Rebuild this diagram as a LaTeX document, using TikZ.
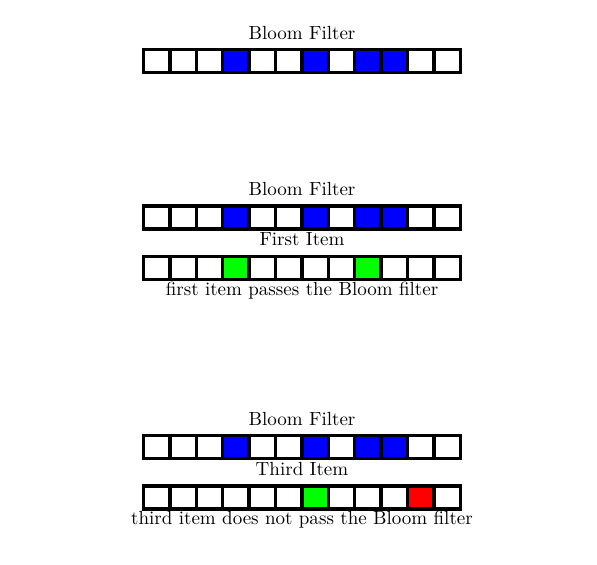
\documentclass[tikz,border=0pt]{standalone}
\usetikzlibrary{positioning}

\tikzset{
	cell/.style={draw, line width=1.8pt, minimum width=14.7pt, minimum height=12.8pt, inner sep=0pt, outer sep=0pt},
	label text/.style={anchor=base, inner sep=0pt, font=\fontsize{10.6}{12}\selectfont},
}

\begin{document}
\begin{tikzpicture}[x=0.557pt, y=-0.557pt]
	\useasboundingbox (0,0) rectangle (597,565);
	% bloom filter alone
	\node[label text] (bf1) at (302,40) {Bloom Filter};
	\foreach \c [count=\i] in {white,white,white,blue,white,white,blue,white,blue,blue,white,white}
		\node[cell, fill=\c] (a\i) at (130.3+26.4*\i,61) {};
	% first item
	\node[label text] (bf2) at (302,196) {Bloom Filter};
	\foreach \c [count=\i] in {white,white,white,blue,white,white,blue,white,blue,blue,white,white}
		\node[cell, fill=\c] (b\i) at (130.3+26.4*\i,217.5) {};
	\node[label text] (it1) at (302,245.7) {First Item};
	\foreach \c [count=\i] in {white,white,white,green,white,white,white,white,green,white,white,white}
		\node[cell, fill=\c] (c\i) at (130.3+26.4*\i,268) {};
	\node[label text] (cap1) at (302,295.5) {first item passes the Bloom filter};
	% third item
	\node[label text] (bf3) at (302,425.7) {Bloom Filter};
	\foreach \c [count=\i] in {white,white,white,blue,white,white,blue,white,blue,blue,white,white}
		\node[cell, fill=\c] (d\i) at (130.3+26.4*\i,447) {};
	\node[label text] (it3) at (302,475) {Third Item};
	\foreach \c [count=\i] in {white,white,white,white,white,white,green,white,white,white,red,white}
		\node[cell, fill=\c] (e\i) at (130.3+26.4*\i,497.5) {};
	\node[label text] (cap3) at (302,524.5) {third item does not pass the Bloom filter};
\end{tikzpicture}
\end{document}
